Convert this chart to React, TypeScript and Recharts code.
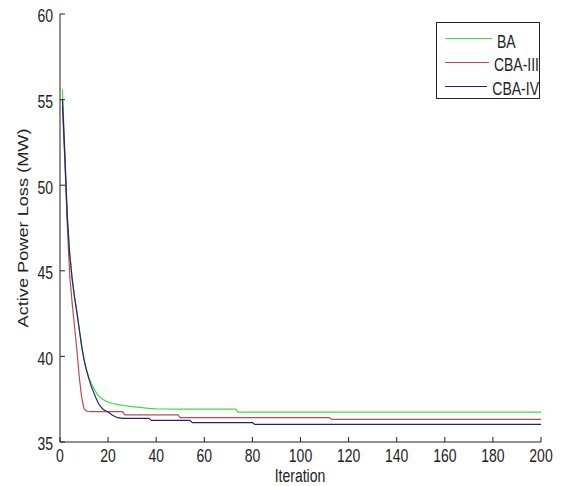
import React from "react";
import { LineChart, Line, XAxis, YAxis, Legend } from "recharts";

// iterations where the curves are sampled (steps need the point before and after)
const iterations = [
  1, 2, 3, 4, 5, 6, 7, 8, 9, 10, 11, 12, 13, 14, 15, 16, 17, 18, 19, 20, 22, 24,
  26, 27, 30, 33, 37, 38, 40, 49, 50, 54, 55, 73, 74, 80, 81, 112, 113, 200,
];

const baLoss = [
  55.6, 52.0, 48.3, 46.1, 44.6, 43.5, 42.6, 41.6, 40.6, 39.8, 39.2, 38.75, 38.4,
  38.15, 37.9, 37.7, 37.57, 37.48, 37.4, 37.33, 37.25, 37.18, 37.14, 37.12,
  37.07, 37.02, 36.96, 36.95, 36.93, 36.92, 36.92, 36.92, 36.92, 36.92, 36.75,
  36.75, 36.75, 36.75, 36.75, 36.75,
];

const cba3Loss = [
  54.6, 51.5, 47.8, 44.8, 43.2, 41.8, 40.4, 38.8, 37.6, 36.95, 36.8, 36.78,
  36.77, 36.77, 36.77, 36.77, 36.77, 36.77, 36.77, 36.77, 36.77, 36.77, 36.77,
  36.58, 36.58, 36.58, 36.58, 36.58, 36.58, 36.58, 36.42, 36.42, 36.42, 36.42,
  36.42, 36.42, 36.42, 36.42, 36.32, 36.32,
];

const cba4Loss = [
  55.0, 51.8, 48.2, 46.0, 44.6, 43.5, 42.6, 41.6, 40.6, 39.8, 39.2, 38.7, 38.25,
  37.9, 37.55, 37.25, 37.05, 36.9, 36.82, 36.75, 36.55, 36.42, 36.38, 36.38,
  36.38, 36.38, 36.38, 36.26, 36.26, 36.26, 36.26, 36.26, 36.13, 36.13, 36.13,
  36.13, 36.03, 36.03, 36.03, 36.03,
];

const xTicks = [0, 20, 40, 60, 80, 100, 120, 140, 160, 180, 200];
const yTicks = [35, 40, 45, 50, 55, 60];

const series = [
  { name: "BA", color: "#45da45" },
  { name: "CBA-III", color: "#c04a50" },
  { name: "CBA-IV", color: "#22227a" },
];

const data = iterations.map((it, i) => ({
  iteration: it,
  BA: baLoss[i],
  "CBA-III": cba3Loss[i],
  "CBA-IV": cba4Loss[i],
}));

// the source figure is stretched vertically, so text is drawn 1.3x taller than wide
const FONT = "'Liberation Sans', Arial, sans-serif";
const STRETCH = 1.3;
const TEXT = "#222";

const XTick = ({ x, y, payload }: any) => (
  <g transform={`translate(${x},${y}) scale(1,${STRETCH})`}>
    <text x={0} y={0} dy="0.72em" textAnchor="middle" fontSize={14} fontFamily={FONT} fill={TEXT}>
      {payload.value}
    </text>
  </g>
);

const YTick = ({ x, y, payload }: any) => (
  <g transform={`translate(${x},${y}) scale(1,${STRETCH})`}>
    <text x={0} y={6.5} textAnchor="end" fontSize={14} fontFamily={FONT} fill={TEXT}>
      {payload.value}
    </text>
  </g>
);

const renderLegend = () => (
  <div
    style={{
      boxSizing: "border-box",
      border: "1px solid #222",
      background: "#fff",
      height: 77,
      paddingTop: 3,
      fontFamily: FONT,
      fontSize: 14,
      color: TEXT,
      whiteSpace: "nowrap",
    }}
  >
    {series.map((s) => (
      <div key={s.name} style={{ display: "flex", alignItems: "center", height: 24 }}>
        <div
          style={{
            width: 47,
            height: 0,
            borderTop: `1px solid ${s.color}`,
            marginLeft: 8,
            marginRight: 5,
          }}
        />
        <span
          style={{
            display: "inline-block",
            transform: `scaleY(${STRETCH})`,
            position: "relative",
            top: 3,
          }}
        >
          {s.name}
        </span>
      </div>
    ))}
  </div>
);

export default function App() {
  return (
    <div
      style={{
        position: "absolute",
        left: 0,
        top: 0,
        width: 581,
        height: 486,
        background: "#fff",
      }}
    >
      <LineChart
        width={581}
        height={486}
        data={data}
        margin={{ top: 14, right: 40, bottom: 0, left: 0 }}
      >
        <XAxis
          dataKey="iteration"
          type="number"
          domain={[0, 200]}
          ticks={xTicks}
          allowDataOverflow
          height={44}
          stroke="#222"
          tickSize={-5}
          tickMargin={12}
          tick={<XTick />}
          label={() => (
            <g transform={`translate(300,482) scale(1,${STRETCH})`}>
              <text x={0} y={0} textAnchor="middle" fontSize={14} fontFamily={FONT} fill={TEXT}>
                Iteration
              </text>
            </g>
          )}
        />
        <XAxis
          xAxisId="top"
          orientation="top"
          dataKey="iteration"
          type="number"
          domain={[0, 200]}
          ticks={xTicks}
          height={0}
          stroke="#222"
          tickSize={-5}
          tickFormatter={() => ""}
        />
        <YAxis
          type="number"
          domain={[35, 60]}
          ticks={yTicks}
          allowDataOverflow
          width={60}
          stroke="#222"
          tickSize={-5}
          tickMargin={12}
          tick={<YTick />}
          label={() => (
            <g transform={`translate(28,228) scale(1,${STRETCH}) rotate(-90)`}>
              <text x={0} y={0} textAnchor="middle" fontSize={14} fontFamily={FONT} fill={TEXT}>
                Active Power Loss (MW)
              </text>
            </g>
          )}
        />
        <YAxis
          yAxisId="right"
          orientation="right"
          type="number"
          domain={[35, 60]}
          ticks={yTicks}
          width={0}
          stroke="#222"
          tickSize={-5}
          tickFormatter={() => ""}
        />
        <Legend
          layout="horizontal"
          align="center"
          verticalAlign="middle"
          content={renderLegend}
          wrapperStyle={{ top: 22, left: 436, width: 104 }}
        />
        {series.map((s) => (
          <Line
            key={s.name}
            dataKey={s.name}
            stroke={s.color}
            strokeWidth={1.2}
            dot={false}
            type="linear"
            isAnimationActive={false}
          />
        ))}
      </LineChart>
    </div>
  );
}
